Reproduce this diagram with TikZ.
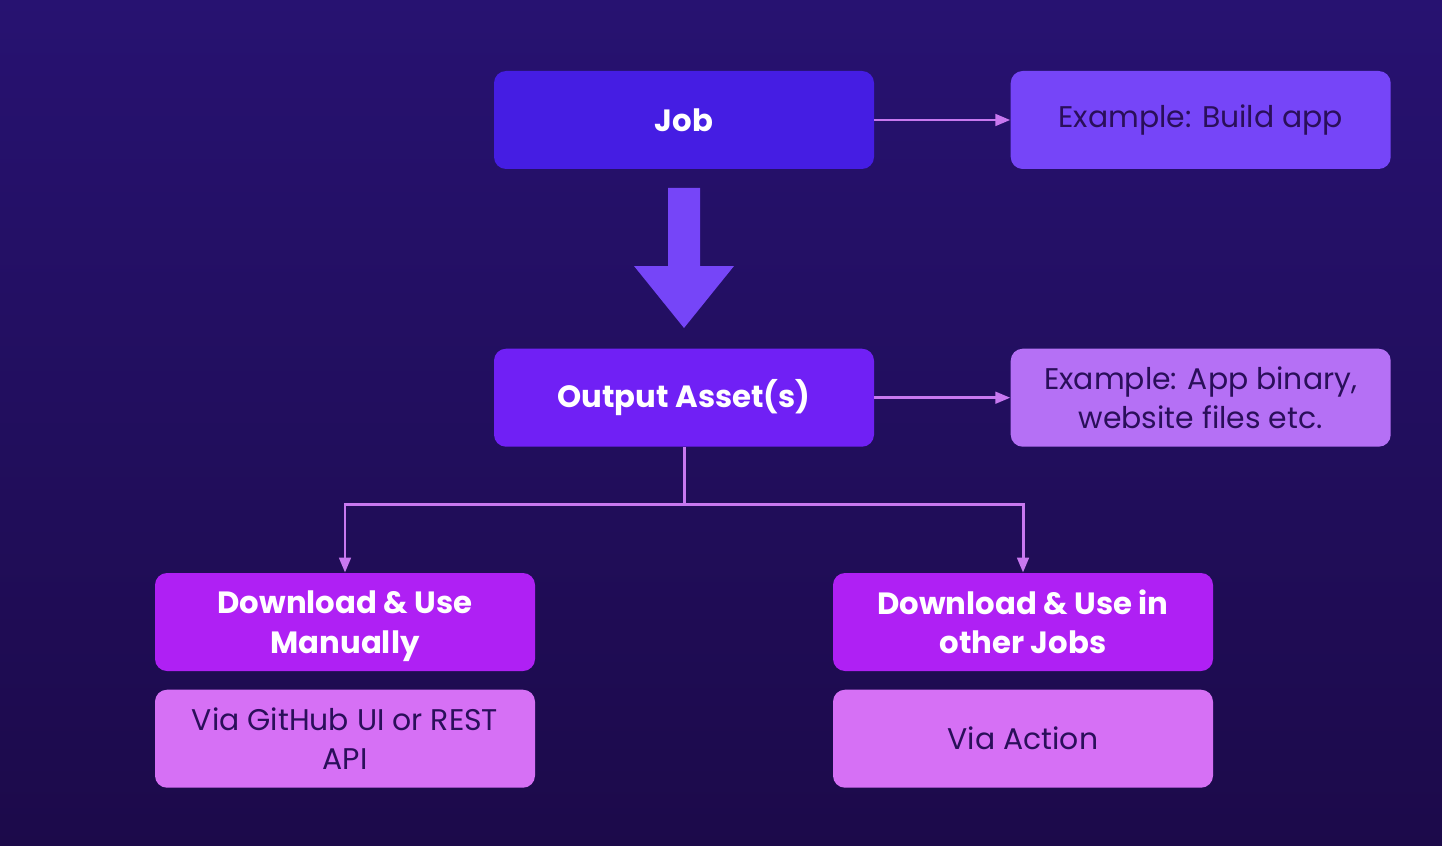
\documentclass[tikz,border=0pt]{standalone}
\usepackage{fontspec}
\setmainfont{Poppins}
\usetikzlibrary{positioning,arrows.meta}
\definecolor{bgtop}{HTML}{271271}
\definecolor{bgbot}{HTML}{1C0A4A}
\definecolor{jobblue}{HTML}{451DE3}
\definecolor{exviolet}{HTML}{7645F8}
\definecolor{outviolet}{HTML}{7020F5}
\definecolor{exlilac}{HTML}{B570F5}
\definecolor{dlpurple}{HTML}{AF20F4}
\definecolor{vialilac}{HTML}{D670F5}
\definecolor{connlilac}{HTML}{C878F0}
\definecolor{darktext}{HTML}{2A0F5A}
\tikzset{
  box/.style={rectangle, rounded corners=0.24cm, minimum width=7.6cm, minimum height=1.96cm,
    align=center, inner sep=2pt, font=\fontsize{17}{22.5}\selectfont},
  mainbox/.style={box, text=white, font=\fontsize{17.5}{22.5}\selectfont\bfseries},
  notebox/.style={box, text=darktext},
  conn/.style={draw=connlilac, line width=1.7pt, -{Triangle[width=6.5pt,length=8.5pt]}}
}
\begin{document}
\begin{tikzpicture}
		%%%%% BACKGROUND %%%%%
		\shade[top color=bgtop, bottom color=bgbot] (0,0) rectangle (28.84,-16.92);
		\useasboundingbox (0,0) rectangle (28.84,-16.92);
		
		%%%%% TOP ROW %%%%%
		\node[mainbox, fill=jobblue] (job) at (13.68,-2.4) {Job};
		\node[notebox, fill=exviolet, right=2.72cm of job] (exbuild) {Example: Build app};
		
		%%%%% MIDDLE ROW %%%%%
		\node[mainbox, fill=outviolet, below=3.58cm of job] (asset) {Output Asset(s)};
		\node[notebox, fill=exlilac, right=2.72cm of asset] (exasset) {Example: App binary,\\website files etc.};
		
		%%%%% BOTTOM ROW %%%%%
		\node[mainbox, fill=dlpurple] (manual) at (6.9,-12.44) {Download \& Use\\Manuall\smash{y}};
		\node[mainbox, fill=dlpurple] (otherjobs) at (20.46,-12.44) {Download \& Use in\\other Jobs};
		\node[notebox, fill=vialilac, below=0.36cm of manual] (viaui) {Via GitHub UI or REST\\API};
		\node[notebox, fill=vialilac, below=0.36cm of otherjobs] (viaaction) {Via Action};
		
		%%%%% BIG ARROW %%%%%
		\fill[exviolet] (13.36,-3.76) -- (14.0,-3.76) -- (14.0,-5.32) -- (14.68,-5.32)
		  -- (13.68,-6.56) -- (12.68,-5.32) -- (13.36,-5.32) -- cycle;
		
		%%%%% CONNECTORS %%%%%
		\draw[conn] (job) -- (exbuild);
		\draw[conn] (asset) -- (exasset);
		\draw[conn] (asset.south) -- ++(0,-1.14) -| (manual.north);
		\draw[conn] (asset.south) -- ++(0,-1.14) -| (otherjobs.north);
		
		%%%%% END %%%%%
	\end{tikzpicture}
\end{document}
